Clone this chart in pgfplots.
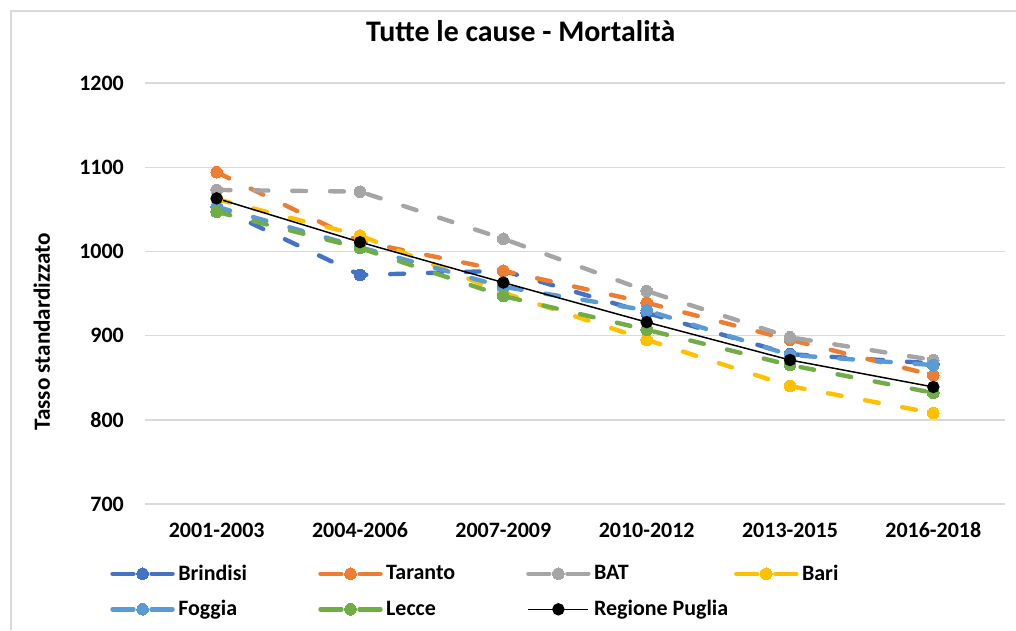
\documentclass[border=0pt]{standalone}
\usepackage{fontspec}
\setmainfont{Carlito}
\usepackage{pgfplots}
\pgfplotsset{compat=1.18}

\definecolor{cBrindisi}{HTML}{4472C4}
\definecolor{cTaranto}{HTML}{ED7D31}
\definecolor{cBAT}{HTML}{A5A5A5}
\definecolor{cBari}{HTML}{FFC000}
\definecolor{cFoggia}{HTML}{5B9BD5}
\definecolor{cLecce}{HTML}{70AD47}
\definecolor{gridgrey}{HTML}{D9D9D9}

\pgfplotstableread{
x Brindisi Taranto BAT Bari Foggia Lecce Regione
0 1053 1094 1073 1062 1053 1047 1063
1 972 1012 1071 1019 1005 1004 1011
2 977 977 1015 951 958 947 963
3 927 939 953 895 930 907 916
4 878 895 898 840 877 865 871
5 867 853 871 808 865 832 839
}\mortalita

\newcommand{\lbl}[1]{\makebox[2.73cm][l]{#1}}

\pgfplotsset{
  serie/.style={
    color=#1, line width=2.5pt, line cap=round,
    dash pattern=on 7.9pt off 13.6pt,
    mark=*, mark size=3.3pt,
    mark options={solid, fill=#1, draw=#1, line width=0pt},
  },
  solid legend/.style={
    legend image code/.code={
      \draw[##1, mark=none] (0cm,0cm) -- (1.2cm,0cm);
      \draw[##1, only marks] plot coordinates {(0.6cm,0cm)};
    },
  },
}

\begin{document}
\begin{tikzpicture}
\useasboundingbox (0,0) rectangle (20.32cm,12.6cm);
% cornice del grafico
\draw[gridgrey, line width=0.9pt] (0.22cm,0cm) -- (0.22cm,12.38cm) -- (20.32cm,12.38cm);
\begin{axis}[
  at={(2.9cm,2.52cm)}, anchor=south west,
  width=17.2cm, height=8.42cm, scale only axis,
  xmin=-0.5, xmax=5.5,
  ymin=700, ymax=1200,
  xtick={0,1,2,3,4,5},
  xticklabels={2001-2003,2004-2006,2007-2009,2010-2012,2013-2015,2016-2018},
  ytick={700,800,900,1000,1100,1200},
  ymajorgrids,
  grid style={gridgrey, line width=0.8pt},
  axis line style={draw=none},
  major tick length=0pt,
  /pgf/number format/assume math mode=true,
  /pgf/number format/1000 sep={},
  ticklabel style={font=\bfseries\fontsize{12.5}{15}\selectfont},
  yticklabel style={xshift=-0.3cm},
  xticklabel style={yshift=-0.25cm},
  title={Tutte le cause - Mortalità},
  title style={font=\bfseries\fontsize{17}{20}\selectfont,
    at={(axis description cs:0.437,1.097)}, anchor=center},
  ylabel={Tasso standardizzato},
  ylabel style={font=\bfseries\fontsize{13.2}{16}\selectfont,
    at={(axis description cs:-0.12,0.409)}, anchor=center},
  legend columns=4,
  legend cell align=left,
  legend style={draw=none, fill=none, at={(axis description cs:-0.0407,-0.135)},
    anchor=north west, inner sep=0pt, row sep=0.21cm,
    font=\bfseries\fontsize{12.5}{15}\selectfont,
    /tikz/every odd column/.append style={column sep=0cm}},
  legend image code/.code={
    \draw[#1, solid, mark=none] (0cm,0cm) -- (0.42cm,0cm);
    \draw[#1, solid, mark=none] (0.78cm,0cm) -- (1.2cm,0cm);
    \draw[#1, only marks] plot coordinates {(0.6cm,0cm)};
  },
]
\addplot[serie=cBrindisi] table[x=x, y=Brindisi] {\mortalita};
\addlegendentry{\lbl{Brindisi}}
\addplot[serie=cTaranto] table[x=x, y=Taranto] {\mortalita};
\addlegendentry{\lbl{Taranto}}
\addplot[serie=cBAT] table[x=x, y=BAT] {\mortalita};
\addlegendentry{\lbl{BAT}}
\addplot[serie=cBari] table[x=x, y=Bari] {\mortalita};
\addlegendentry{\lbl{Bari}}
\addplot[serie=cFoggia] table[x=x, y=Foggia] {\mortalita};
\addlegendentry{\lbl{Foggia}}
\addplot[serie=cLecce] table[x=x, y=Lecce] {\mortalita};
\addlegendentry{\lbl{Lecce}}
\addplot[black, line width=0.85pt, mark=*, mark size=3.1pt,
  mark options={solid, fill=black}, solid legend] table[x=x, y=Regione] {\mortalita};
\addlegendentry{\lbl{Regione Puglia}}
\end{axis}
\end{tikzpicture}
\end{document}
